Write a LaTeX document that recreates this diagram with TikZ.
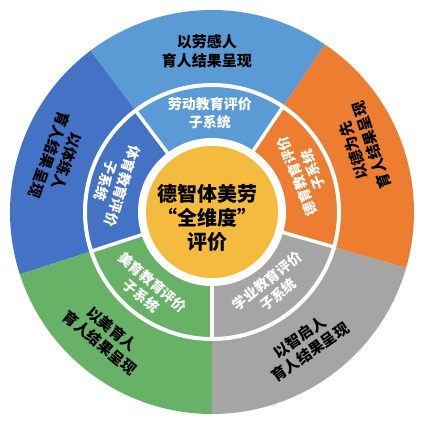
\documentclass[tikz,border=0pt]{standalone}
\usepackage{fontspec}
\setmainfont{Noto Sans CJK SC}
\definecolor{lblue}{RGB}{91,155,213}
\definecolor{dblue}{RGB}{68,114,196}
\definecolor{orng}{RGB}{237,125,49}
\definecolor{grayc}{RGB}{165,165,165}
\definecolor{grn}{RGB}{104,178,104}
\definecolor{gold}{RGB}{245,187,62}
\begin{document}
\begin{tikzpicture}[x=1pt,y=1pt,
  outertxt/.style={font=\fontsize{15}{18.5}\selectfont\bfseries, text=black, align=center, inner sep=0pt},
  innertxt/.style={font=\fontsize{14}{17.5}\selectfont\bfseries, text=white, align=center, inner sep=0pt},
  centertxt/.style={font=\fontsize{20}{24}\selectfont\bfseries, text=black, align=center, inner sep=0pt},
  sepline/.style={white, line width=3.5pt}]
\fill[white] (-212,-209) rectangle (211,212);
\useasboundingbox (-212,-209) rectangle (211,212);
% outer sectors
\fill[lblue] (0,0) -- (56:202) arc[start angle=56, end angle=127, radius=202] -- cycle;
\fill[dblue] (0,0) -- (127:202) arc[start angle=127, end angle=198, radius=202] -- cycle;
\fill[grn] (0,0) -- (198:202) arc[start angle=198, end angle=270, radius=202] -- cycle;
\fill[grayc] (0,0) -- (270:202) arc[start angle=270, end angle=344, radius=202] -- cycle;
\fill[orng] (0,0) -- (344:202) arc[start angle=344, end angle=416, radius=202] -- cycle;
% inner ring boundary
\draw[white, line width=4pt] (0,0) circle[radius=127];
% inner separators
\foreach \a in {56,127,198,270,344} \draw[sepline] (0,0) -- (\a:127);
% gap and center
\fill[white] (0,0) circle[radius=74];
\fill[gold] (0,0) circle[radius=66];
% texts
\node[centertxt] (c) at (-4,-6) {德智体美劳\\“全维度”\\评价};
\node[outertxt] (o1) at (-5,160.5) {以劳感人\\育人结果呈现};
\node[innertxt] (i1) at (-2,99) {劳动教育评价\\子系统};
\node[outertxt, rotate=108] (o2) at (23:164) {以德为先\\育人结果呈现};
\node[innertxt, rotate=111] (i2) at (22.7:101) {德育教育评价\\子系统};
\node[outertxt, rotate=35] (o3) at (-55:162) {以智启人\\育人结果呈现};
\node[innertxt, rotate=39] (i3) at (-51.3:97) {学业教育评价\\子系统};
\node[outertxt, rotate=320] (o4) at (229.5:163) {以美育人\\育人结果呈现};
\node[innertxt, rotate=320] (i4) at (230:101) {美育教育评价\\子系统};
\node[outertxt, rotate=250] (o5) at (160.7:163) {以体练人\\育人结果呈现};
\node[innertxt, rotate=252] (i5) at (163.7:102) {体育教育评价\\子系统};
\end{tikzpicture}
\end{document}
